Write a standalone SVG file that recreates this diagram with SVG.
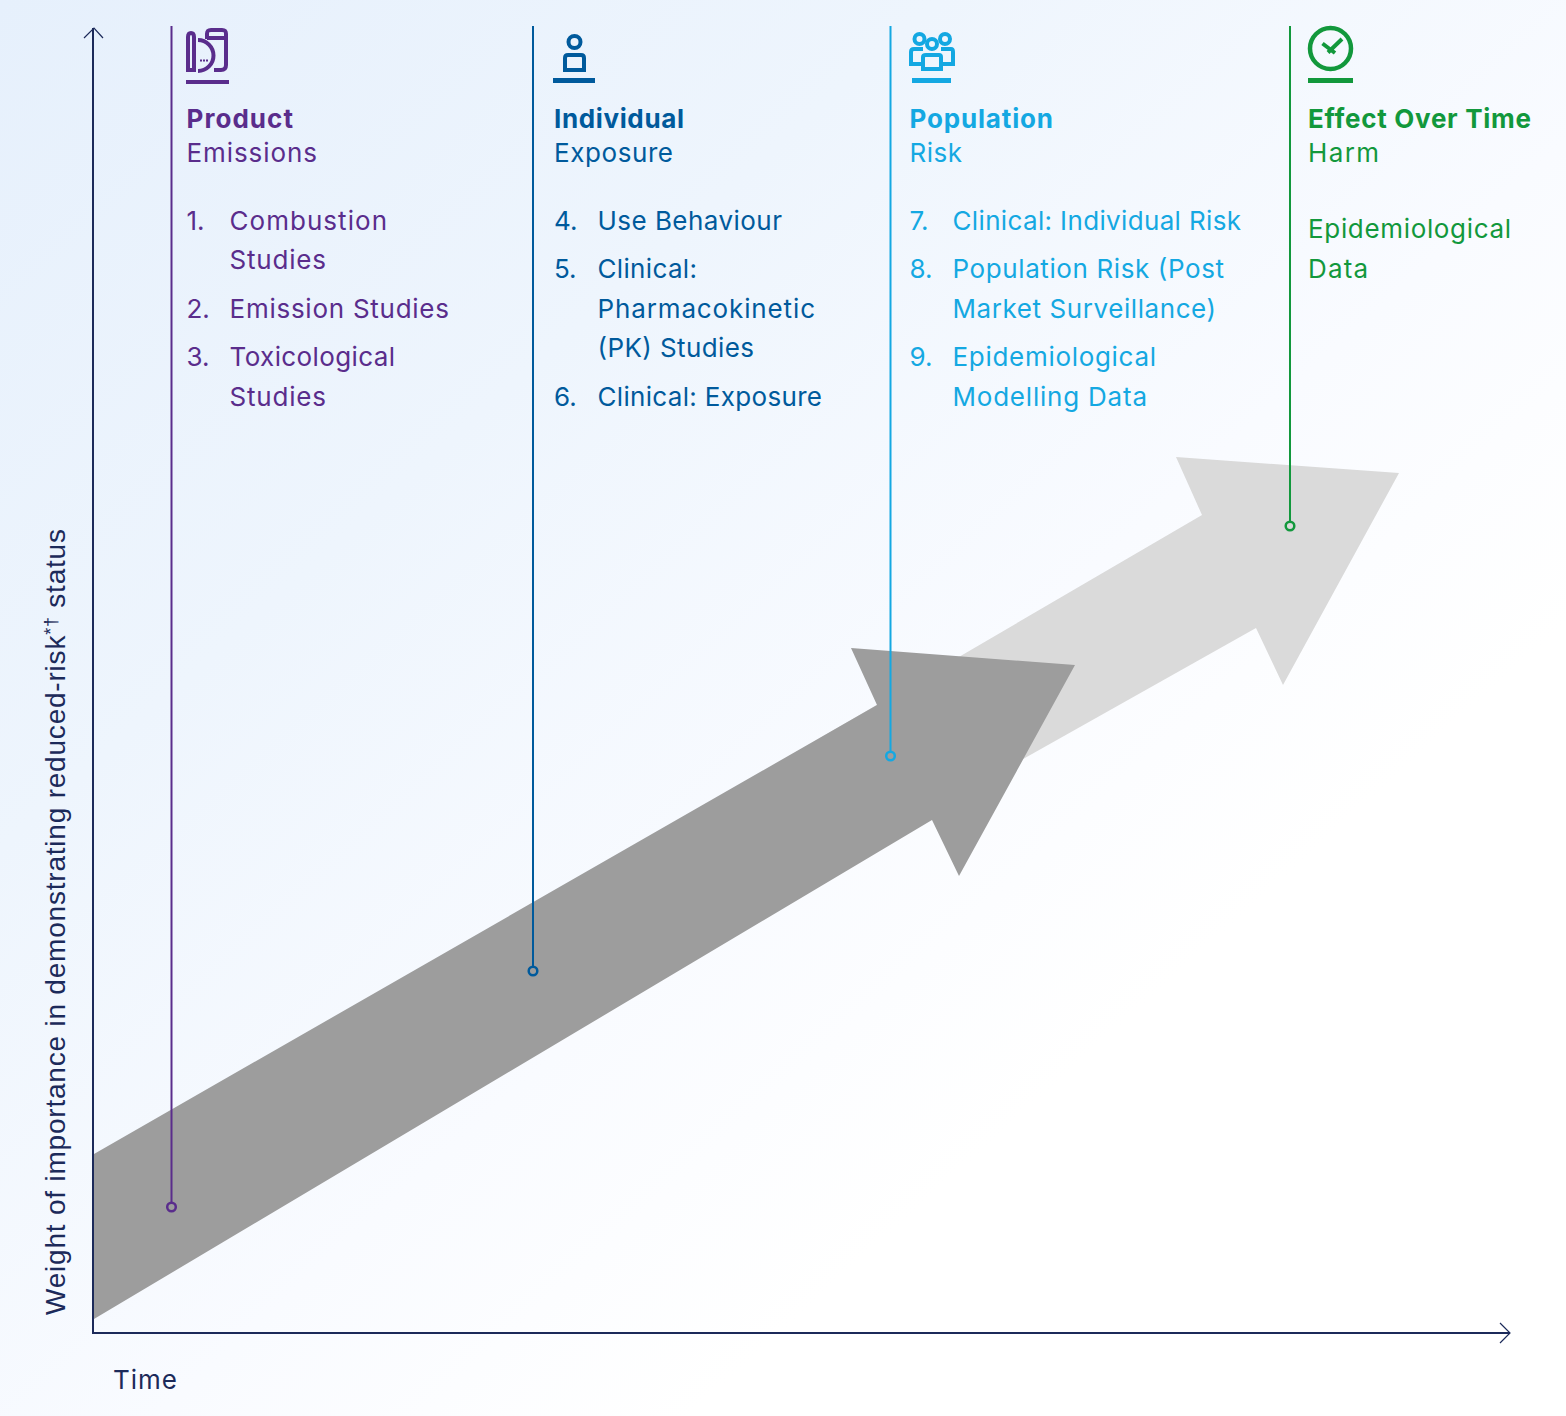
<svg xmlns="http://www.w3.org/2000/svg" width="1566" height="1416" viewBox="0 0 1566 1416">
<style>
text{font-family:"Inter","Noto Sans",sans-serif;font-size:26px}
.h{font-weight:700}
.purple{fill:#5a2d8c}.blue{fill:#005a9c}.cyan{fill:#14a8e2}.green{fill:#12983c}
.lp{stroke:#5a2d8c}.lb{stroke:#005a9c}.lc{stroke:#14a8e2}.lg{stroke:#12983c}
.l{stroke-width:2;fill:none}
.d{fill:none;stroke-width:2.500}
.i{fill:none;stroke-width:4}
.ax{stroke:#1c2a5a;stroke-width:2;fill:none}
.tip{stroke:#1c2a5a;stroke-width:1.200;fill:none}
</style>
<defs>
<linearGradient id="bg" x1="0" y1="0" x2="1" y2="1">
<stop offset="0" stop-color="#e6f0fc"/>
<stop offset="0.3" stop-color="#eef5fd"/>
<stop offset="0.55" stop-color="#f9fbff"/>
<stop offset="0.72" stop-color="#ffffff"/>
</linearGradient>
</defs>
<rect width="1566" height="1416" fill="url(#bg)"/>
<g id="arrows">
<polygon points="820,738 1202,515 1176,457 1399,473 1283,685 1256,628 1000,772 840,800" fill="#dadada"/>
<polygon points="94,1154 877,705 851,648 1075,665 959,876 932,820 94,1319" fill="#9d9d9d"/>
</g>
<g id="connectors">
<path class="ax" d="M93 28V1333H1510"/>
<path class="tip" d="M84 38L94 28L103 38M1500 1323L1510 1333L1500 1343"/>
<path class="l lp" d="M171.500 26V1203"/><circle class="d lp" cx="171.500" cy="1207" r="4.300"/>
<path class="l lb" d="M533 26V967"/><circle class="d lb" cx="533" cy="971" r="4.300"/>
<path class="l lc" d="M890.500 26V752"/><circle class="d lc" cx="890.500" cy="756" r="4.300"/>
<path class="l lg" d="M1290 26V522"/><circle class="d lg" cx="1290" cy="526" r="4.300"/>
</g>
<g id="node-product">
<g class="i lp">
<path d="M188 37Q188 33 191 33Q194 33 194 37V70H188Z"/>
<path d="M198 40A15 15 0 0 1 198 71"/>
<path d="M207 39V34Q207 30 211 30H222Q226 30 226 34V65Q226 70 221 70H214M207 38H226"/>
</g>
<path d="M209 32.500h7v2.500h-7zM218 32.500h6v2.500h-6z" fill="#e8f0fc"/>
<path d="M200 59.500h2v2h-2zM203 59.500h2v2h-2zM206 59.500h2v2h-2z" class="purple"/>
<rect class="purple" x="186" y="80" width="43" height="4"/>
<text class="h purple" x="186.500" y="128" textLength="106.500">Product</text>
<text class="purple" x="186.500" y="162" textLength="130.500">Emissions</text>
<text class="purple" x="186.500" y="229.500">1.</text>
<text class="purple" x="229.500" y="229.500" textLength="157.500">Combustion</text>
<text class="purple" x="229.500" y="268.500" textLength="96.500">Studies</text>
<text class="purple" x="186.500" y="317.500">2.</text>
<text class="purple" x="229.500" y="317.500" textLength="219.500">Emission Studies</text>
<text class="purple" x="186.500" y="365.500">3.</text>
<text class="purple" x="229.500" y="365.500" textLength="165.500">Toxicological</text>
<text class="purple" x="229.500" y="405.500" textLength="96.500">Studies</text>
</g>
<g id="node-individual">
<circle class="i lb" cx="574.500" cy="42" r="6"/>
<path class="i lb" d="M565 70V58Q565 55 568 55H581Q584 55 584 58V70Z"/>
<rect class="blue" x="553" y="78" width="42" height="5"/>
<text class="h blue" x="554" y="128" textLength="130">Individual</text>
<text class="blue" x="554" y="162" textLength="119">Exposure</text>
<text class="blue" x="554" y="229.500">4.</text>
<text class="blue" x="597.500" y="229.500" textLength="184.500">Use Behaviour</text>
<text class="blue" x="554" y="277.500">5.</text>
<text class="blue" x="597.500" y="277.500" textLength="99.500">Clinical:</text>
<text class="blue" x="597.500" y="317.500" textLength="217.500">Pharmacokinetic</text>
<text class="blue" x="597.500" y="356.500" textLength="156.500">(PK) Studies</text>
<text class="blue" x="554" y="405.500">6.</text>
<text class="blue" x="597.500" y="405.500" textLength="224.500">Clinical: Exposure</text>
</g>
<g id="node-population">
<g class="i lc">
<circle cx="919.500" cy="39" r="5"/><circle cx="945" cy="39" r="5"/><circle cx="932" cy="44" r="5"/>
<path d="M922 64H911V52Q911 49 914 49H923M941 49H951Q953 49 953 52V64H942"/>
<path d="M923 69V57Q923 55 926 55H939Q941 55 941 57V69Z"/>
</g>
<rect class="cyan" x="912" y="78" width="39" height="5"/>
<text class="h cyan" x="909.500" y="128" textLength="143.500">Population</text>
<text class="cyan" x="909.500" y="162" textLength="52.500">Risk</text>
<text class="cyan" x="909.500" y="229.500">7.</text>
<text class="cyan" x="952.500" y="229.500" textLength="288.500">Clinical: Individual Risk</text>
<text class="cyan" x="909.500" y="277.500">8.</text>
<text class="cyan" x="952.500" y="277.500" textLength="271.500">Population Risk (Post</text>
<text class="cyan" x="952.500" y="317.500" textLength="263.500">Market Surveillance)</text>
<text class="cyan" x="909.500" y="365.500">9.</text>
<text class="cyan" x="952.500" y="365.500" textLength="203.500">Epidemiological</text>
<text class="cyan" x="952.500" y="405.500" textLength="194.500">Modelling Data</text>
</g>
<g id="node-effect">
<circle cx="1330.500" cy="48.500" r="20.500" fill="none" class="lg" stroke-width="4.500"/>
<path d="M1322.500 43.500L1335 53M1342 39L1328 52.500" fill="none" class="lg" stroke-width="4"/>
<rect class="green" x="1308" y="78" width="45" height="5"/>
<text class="h green" x="1308" y="128" textLength="223">Effect Over Time</text>
<text class="green" x="1308" y="162" textLength="71">Harm</text>
<text class="green" x="1308" y="237.500" textLength="203">Epidemiological</text>
<text class="green" x="1308" y="277.500" textLength="60">Data</text>
</g>
<g id="axis-labels">
<text x="113" y="1389" fill="#1c2a5a" textLength="64">Time</text>
<text transform="translate(64.500 1315) rotate(-90)" fill="#1c2a5a" textLength="786" style="font-family:'Liberation Sans',Arial,sans-serif;font-size:28px">Weight of importance in demonstrating reduced-risk<tspan dy="-8" font-size="18">*†</tspan><tspan dy="8"> status</tspan></text>
</g>
</svg>
